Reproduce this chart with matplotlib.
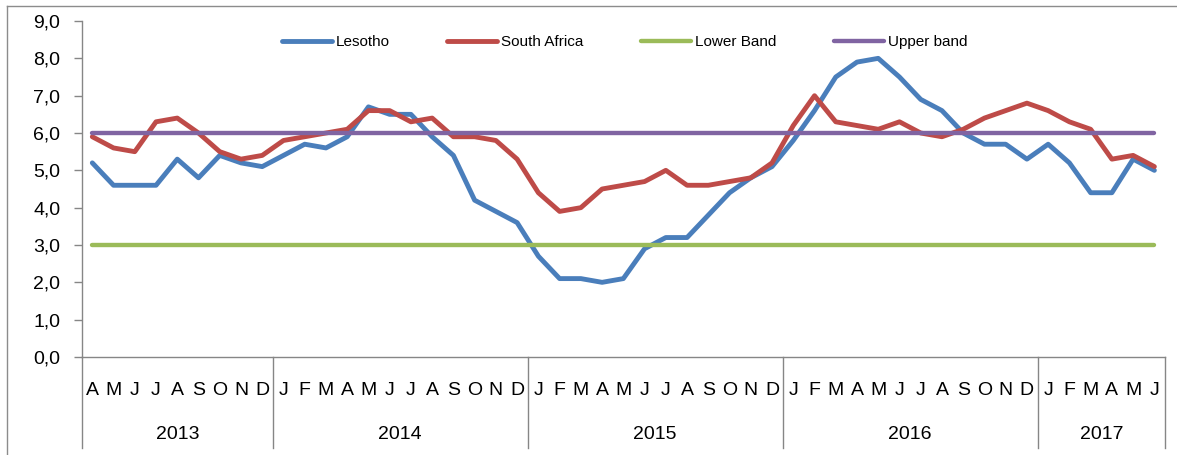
import numpy as np
import matplotlib
matplotlib.use('Agg')
import matplotlib.pyplot as plt
from matplotlib.lines import Line2D
from matplotlib.ticker import FuncFormatter

plt.rcParams['font.family'] = ['Liberation Sans Narrow', 'Liberation Sans', 'DejaVu Sans']

years = ['2013', '2014', '2015', '2016', '2017']
months = [
    'A', 'M', 'J', 'J', 'A', 'S', 'O', 'N', 'D',
    'J', 'F', 'M', 'A', 'M', 'J', 'J', 'A', 'S', 'O', 'N', 'D',
    'J', 'F', 'M', 'A', 'M', 'J', 'J', 'A', 'S', 'O', 'N', 'D',
    'J', 'F', 'M', 'A', 'M', 'J', 'J', 'A', 'S', 'O', 'N', 'D',
    'J', 'F', 'M', 'A', 'M', 'J',
]
months_per_year = [9, 12, 12, 12, 6]

lesotho = [
    5.2, 4.6, 4.6, 4.6, 5.3, 4.8, 5.4, 5.2, 5.1,
    5.4, 5.7, 5.6, 5.9, 6.7, 6.5, 6.5, 5.9, 5.4, 4.2, 3.9, 3.6,
    2.7, 2.1, 2.1, 2.0, 2.1, 2.9, 3.2, 3.2, 3.8, 4.4, 4.8, 5.1,
    5.8, 6.6, 7.5, 7.9, 8.0, 7.5, 6.9, 6.6, 6.0, 5.7, 5.7, 5.3,
    5.7, 5.2, 4.4, 4.4, 5.3, 5.0,
]
south_africa = [
    5.9, 5.6, 5.5, 6.3, 6.4, 6.0, 5.5, 5.3, 5.4,
    5.8, 5.9, 6.0, 6.1, 6.6, 6.6, 6.3, 6.4, 5.9, 5.9, 5.8, 5.3,
    4.4, 3.9, 4.0, 4.5, 4.6, 4.7, 5.0, 4.6, 4.6, 4.7, 4.8, 5.2,
    6.2, 7.0, 6.3, 6.2, 6.1, 6.3, 6.0, 5.9, 6.1, 6.4, 6.6, 6.8,
    6.6, 6.3, 6.1, 5.3, 5.4, 5.1,
]
lower_band = 3.0
upper_band = 6.0

x = np.arange(len(months))
grey = '#868686'

fig = plt.figure(figsize=(11.77, 4.55), dpi=100)
ax = fig.add_axes([0.0694, 0.2154, 0.9204, 0.7384])

lw = 3.5
ax.plot(x, lesotho, color='#4A7EBB', linewidth=lw, label='Lesotho', solid_capstyle='round')
ax.plot(x, south_africa, color='#BE4B48', linewidth=lw, label='South Africa', solid_capstyle='round')
ax.plot(x, np.full(len(x), lower_band), color='#9BBB59', linewidth=lw * 0.9,
        label='Lower Band', solid_capstyle='round')
ax.plot(x, np.full(len(x), upper_band), color='#8064A2', linewidth=lw * 0.9,
        label='Upper band', solid_capstyle='round')

ax.set_xlim(-0.5, len(x) - 0.5)
ax.set_ylim(0, 9)
ax.set_yticks(np.arange(0, 9.5, 1.0))
ax.yaxis.set_major_formatter(FuncFormatter(lambda v, p: f'{v:.1f}'.replace('.', ',')))
ax.tick_params(axis='y', length=5.8, width=1.0, color=grey, pad=9.5, labelsize=14)
ax.set_xticks([])

for s in ['top', 'right']:
    ax.spines[s].set_visible(False)
for s in ['left', 'bottom']:
    ax.spines[s].set_color(grey)
    ax.spines[s].set_linewidth(1.0)

# two-level category axis: months, then years with separators
trans = ax.get_xaxis_transform()
for xi, m in zip(x, months):
    ax.text(xi, -0.113, m, transform=trans, ha='center', va='baseline', fontsize=14)
edges = np.concatenate([[0], np.cumsum(months_per_year)]) - 0.5
for e in edges:
    ax.plot([e, e], [0, -0.27], transform=trans, color=grey, linewidth=1.0, clip_on=False)
for yr, a, b in zip(years, edges[:-1], edges[1:]):
    ax.text((a + b) / 2, -0.245, yr, transform=trans, ha='center', va='baseline', fontsize=14)

ax.legend(loc='center left', bbox_to_anchor=(282 / 1177, 1 - 42.3 / 455),
          bbox_transform=fig.transFigure, ncol=4, frameon=False, fontsize=11,
          handlelength=3.27, handletextpad=0.27, columnspacing=3.75,
          borderpad=0, borderaxespad=0)

# outer chart frame (only top and left edges show in the crop)
fig.add_artist(Line2D([7 / 1177, 1], [1 - 6 / 455, 1 - 6 / 455], transform=fig.transFigure,
                      color='#8c8c8c', linewidth=1.0))
fig.add_artist(Line2D([7 / 1177, 7 / 1177], [0, 1 - 6 / 455], transform=fig.transFigure,
                      color='#8c8c8c', linewidth=1.0))

fig.savefig('out.png', dpi=100)
